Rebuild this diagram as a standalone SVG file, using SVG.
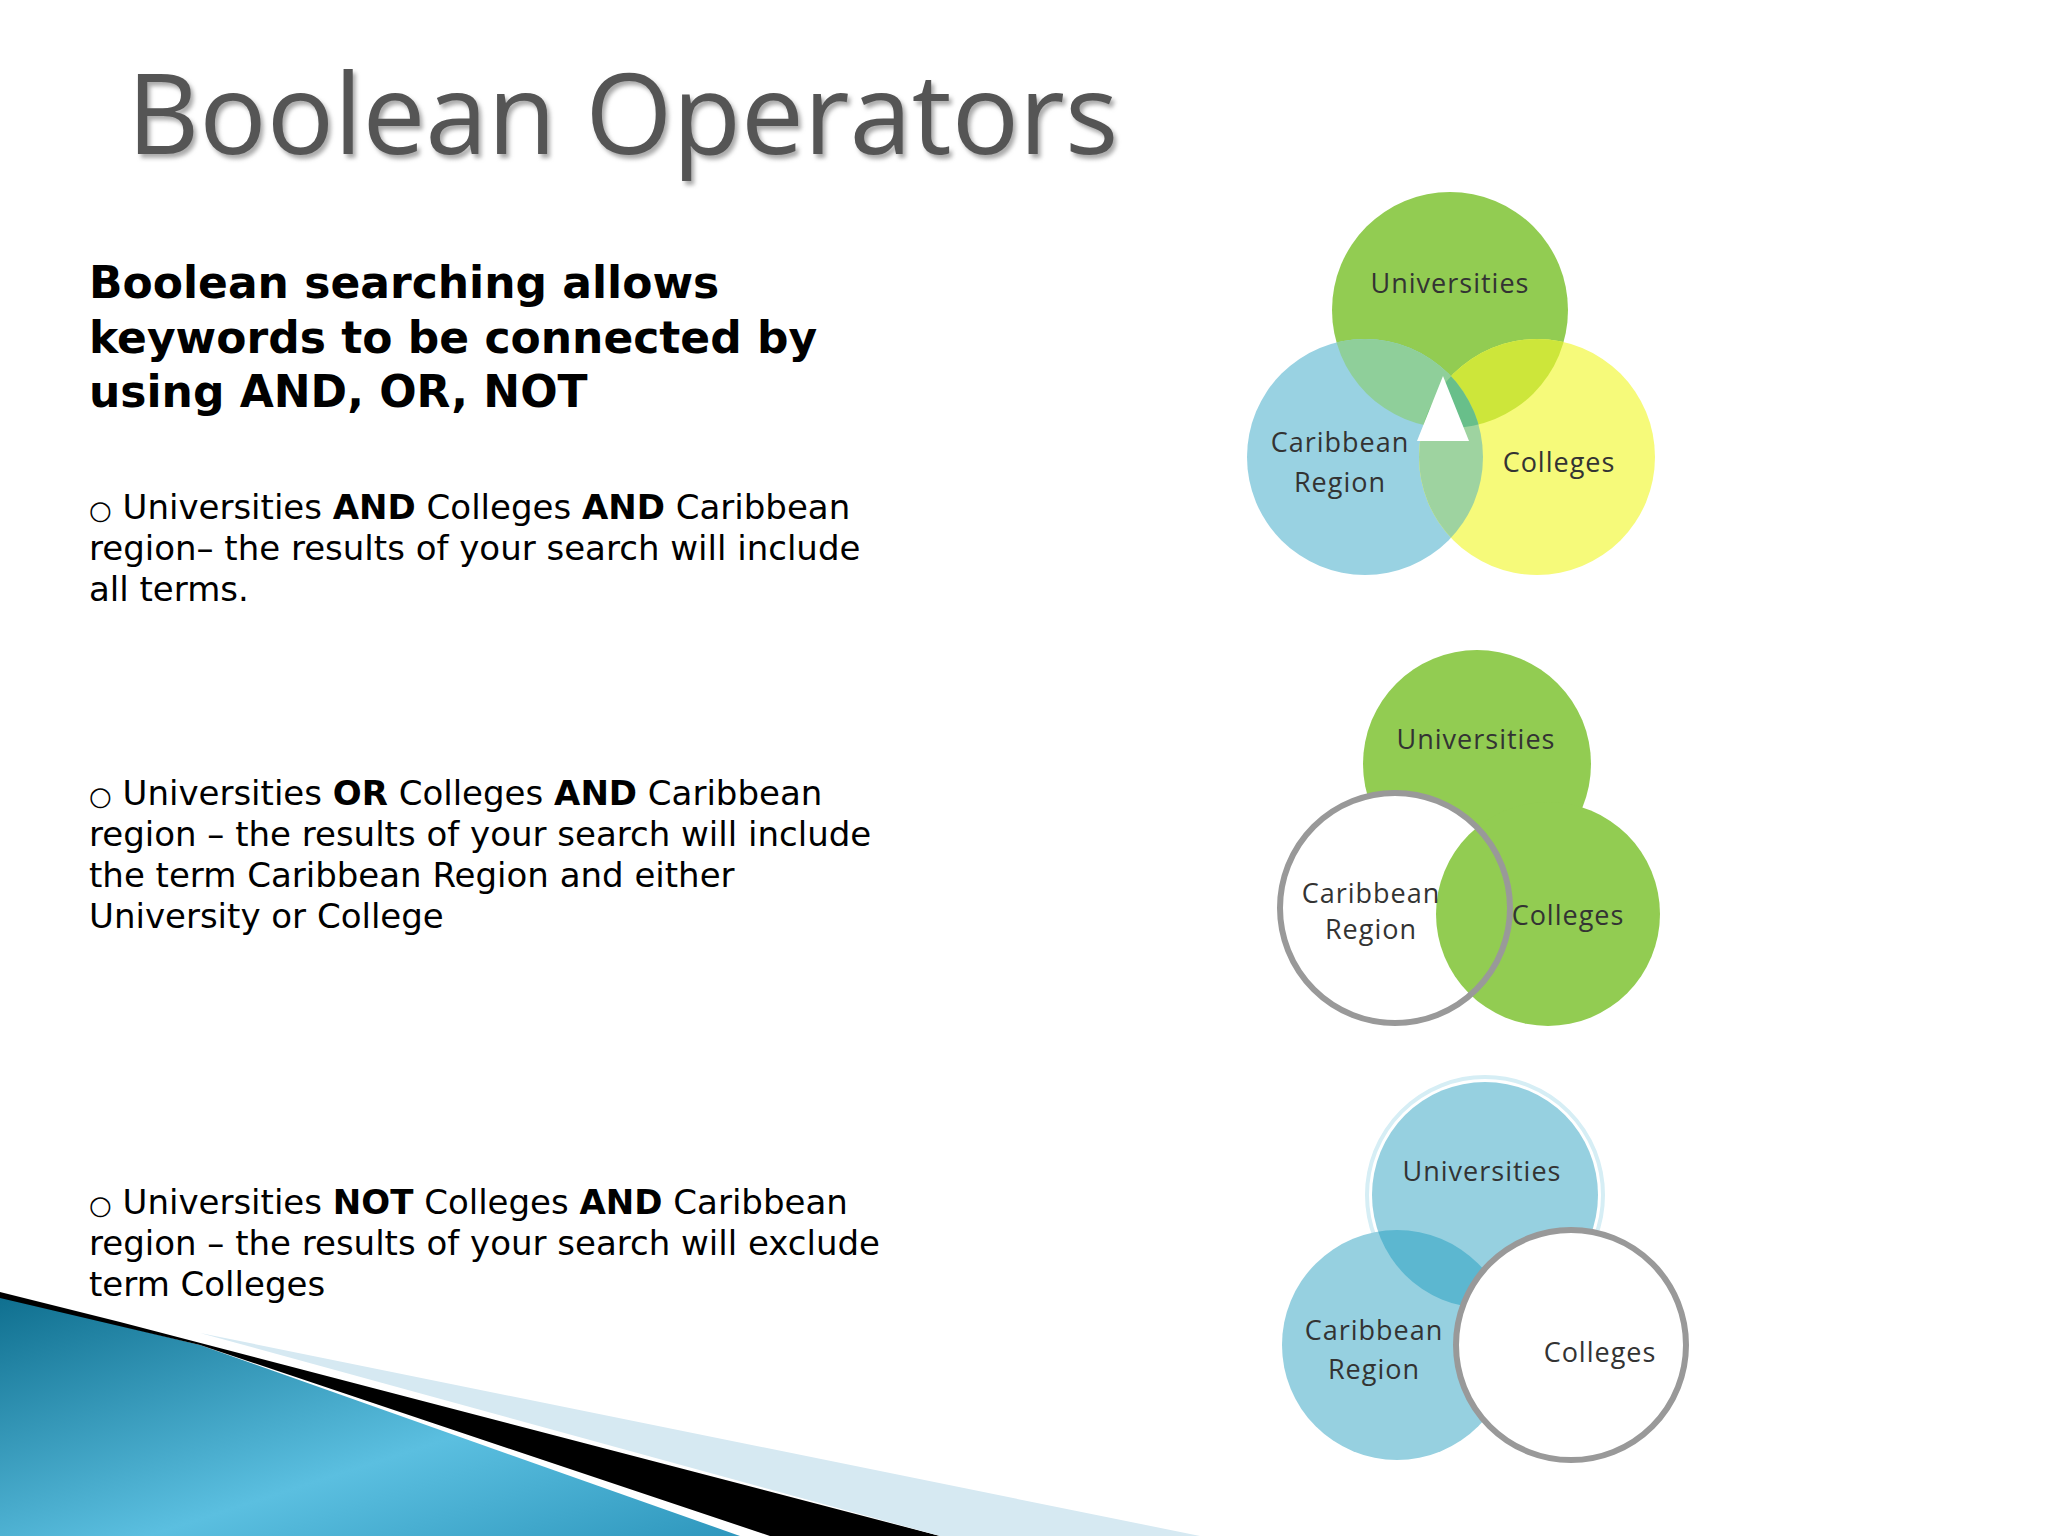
<svg xmlns="http://www.w3.org/2000/svg" width="2048" height="1536" viewBox="0 0 2048 1536">
<defs>
<linearGradient id="bl" x1="0" y1="0" x2="1" y2="1"><stop offset="0" stop-color="#0f6f8f"/><stop offset="0.6" stop-color="#5bbfe0"/><stop offset="1" stop-color="#2e97bd"/></linearGradient>
<filter id="sh"><feGaussianBlur stdDeviation="2"/></filter>
<clipPath id="cU1"><circle cx="1450" cy="310" r="118"/></clipPath>
<clipPath id="cC1"><circle cx="1365" cy="457" r="118"/></clipPath>
<clipPath id="cU3"><circle cx="1485" cy="1195" r="113"/></clipPath>
<style>
.h{font-family:"DejaVu Sans",sans-serif;font-weight:bold;font-size:44px;fill:#000}
.b{font-family:"DejaVu Sans",sans-serif;font-size:34px;fill:#000}
.bu{font-size:26px}
.l{font-family:"Open Sans",sans-serif;font-size:27px;fill:#333;text-anchor:middle;letter-spacing:1px}
.ring{fill:none;stroke:#999;stroke-width:6}
</style>
</defs>
<rect width="2048" height="1536" fill="#fff"/>
<text x="130" y="158" font-family="Open Sans,sans-serif" font-size="112" fill="#aaa" filter="url(#sh)">Boolean Operators</text>
<text x="127" y="154" font-family="Open Sans,sans-serif" font-size="112" fill="#555">Boolean Operators</text>
<text class="h"><tspan x="89" y="298">Boolean searching allows</tspan><tspan x="89" y="353">keywords to be connected by</tspan><tspan x="89" y="407">using AND, OR, NOT</tspan></text>
<text class="b"><tspan x="89" y="519"><tspan class="bu">○</tspan> Universities <tspan font-weight="bold">AND</tspan> Colleges <tspan font-weight="bold">AND</tspan> Caribbean</tspan><tspan x="89" y="560">region– the results of your search will include</tspan><tspan x="89" y="601">all terms.</tspan></text>
<text class="b"><tspan x="89" y="805"><tspan class="bu">○</tspan> Universities <tspan font-weight="bold">OR</tspan> Colleges <tspan font-weight="bold">AND</tspan> Caribbean</tspan><tspan x="89" y="846">region – the results of your search will include</tspan><tspan x="89" y="887">the term Caribbean Region and either</tspan><tspan x="89" y="928">University or College</tspan></text>
<text class="b"><tspan x="89" y="1214"><tspan class="bu">○</tspan> Universities <tspan font-weight="bold">NOT</tspan> Colleges <tspan font-weight="bold">AND</tspan> Caribbean</tspan><tspan x="89" y="1255">region – the results of your search will exclude</tspan><tspan x="89" y="1296">term Colleges</tspan></text>
<g id="swoosh">
<polygon points="0,1296 200,1345 740,1536 0,1536" fill="url(#bl)"/>
<polygon points="0,1292 120,1322 940,1536 770,1536 200,1345 0,1298" fill="#000"/>
<polygon points="200,1333 1200,1536 940,1536" fill="#d6e9f2"/>
</g>
<g id="venn1">
<circle cx="1450" cy="310" r="118" fill="#92cc52"/>
<circle cx="1365" cy="457" r="118" fill="#99d2e2"/>
<circle cx="1537" cy="457" r="118" fill="#f6fa7a"/>
<circle cx="1365" cy="457" r="118" fill="#8fcf9a" clip-path="url(#cU1)"/>
<circle cx="1537" cy="457" r="118" fill="#cde63a" clip-path="url(#cU1)"/>
<circle cx="1537" cy="457" r="118" fill="#9ed3a0" clip-path="url(#cC1)"/>
<g clip-path="url(#cU1)"><circle cx="1537" cy="457" r="118" fill="#68bf8a" clip-path="url(#cC1)"/></g>
<polygon points="1443,376 1417,441 1469,441" fill="#fff"/>
<text class="l" x="1450" y="293">Universities</text>
<text class="l" x="1340" y="452">Caribbean</text>
<text class="l" x="1340" y="492">Region</text>
<text class="l" x="1559" y="472">Colleges</text>
</g>
<g id="venn2">
<circle cx="1477" cy="764" r="114" fill="#92cc52"/>
<circle cx="1395" cy="908" r="115" fill="#fff"/>
<circle cx="1548" cy="914" r="112" fill="#92cc52"/>
<circle class="ring" cx="1395" cy="908" r="115"/>
<text class="l" x="1476" y="749">Universities</text>
<text class="l" x="1371" y="903">Caribbean</text>
<text class="l" x="1371" y="939">Region</text>
<text class="l" x="1568" y="925">Colleges</text>
</g>
<g id="venn3">
<circle cx="1485" cy="1195" r="118" fill="none" stroke="#d6eef5" stroke-width="4"/>
<circle cx="1485" cy="1195" r="113" fill="#96d0e0"/>
<circle cx="1397" cy="1345" r="115" fill="#96d0e0"/>
<circle cx="1397" cy="1345" r="115" fill="#5cb7d0" clip-path="url(#cU3)"/>
<circle cx="1571" cy="1345" r="115" fill="#fff"/>
<circle class="ring" cx="1571" cy="1345" r="115"/>
<text class="l" x="1482" y="1181">Universities</text>
<text class="l" x="1374" y="1340">Caribbean</text>
<text class="l" x="1374" y="1379">Region</text>
<text class="l" x="1600" y="1362">Colleges</text>
</g>
</svg>
